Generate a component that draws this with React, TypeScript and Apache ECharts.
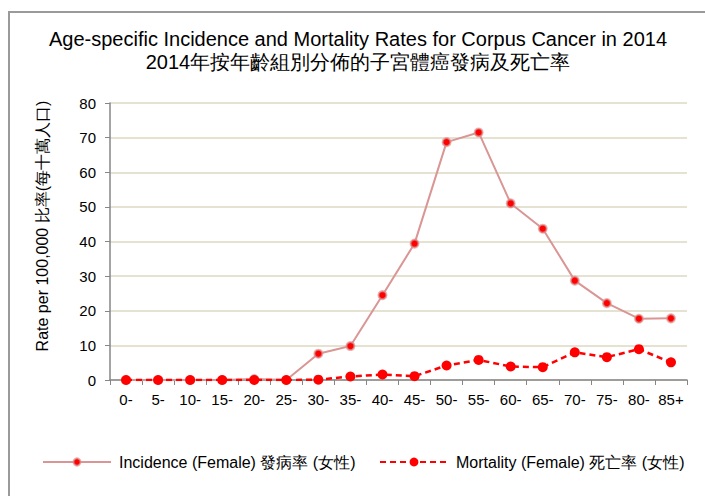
import React, { useEffect, useRef } from "react";
import * as echarts from "echarts";

const categories = ["0-", "5-", "10-", "15-", "20-", "25-", "30-", "35-", "40-", "45-", "50-", "55-", "60-", "65-", "70-", "75-", "80-", "85+"];
const incidence = [0, 0, 0, 0, 0.3, 0, 7.6, 9.8, 24.5, 39.4, 68.7, 71.5, 51.0, 43.7, 28.7, 22.2, 17.7, 17.8];
const mortality = [0, 0, 0, 0, 0, 0, 0.1, 1.0, 1.6, 1.1, 4.2, 5.8, 3.9, 3.7, 8.0, 6.6, 8.9, 5.1];
const yTicks = { min: 0, max: 80, interval: 10 };
const seriesNames = ["Incidence (Female) 發病率 (女性)", "Mortality (Female) 死亡率 (女性)"];

const FONT = "'Liberation Sans', Arial, sans-serif";

export default function App() {
  const ref = useRef<HTMLDivElement>(null);
  useEffect(() => {
    document.body.style.margin = "0";
    const chart = echarts.init(ref.current!, undefined, { renderer: "svg" });
    const legendBase = {
      top: 454,
      padding: 0,
      itemWidth: 68,
      textStyle: { fontSize: 16, color: "#000", fontFamily: FONT, padding: [0, 0, 0, 3] },
    };
    chart.setOption({
      animation: false,
      backgroundColor: "#fff",
      textStyle: { fontFamily: FONT },
      graphic: [
        {
          type: "rect",
          shape: { x: 9, y: 12, width: 720, height: 520 },
          style: { fill: "none", stroke: "#9a9a9a", lineWidth: 2 },
          silent: true,
          z: -10,
        },
      ],
      title: {
        text: "Age-specific Incidence and Mortality Rates for Corpus Cancer in 2014\n2014年按年齡組別分佈的子宮體癌發病及死亡率",
        left: 353,
        textAlign: "center",
        top: 22,
        textStyle: { fontFamily: FONT, fontSize: 20, fontWeight: "normal", color: "#000", lineHeight: 23 },
      },
      grid: { left: 110, right: 18, top: 103, bottom: 116, containLabel: false },
      xAxis: {
        type: "category",
        data: categories,
        boundaryGap: true,
        axisLine: { lineStyle: { color: "#868686", width: 1.5 } },
        axisTick: { show: true, alignWithLabel: false, length: 5, lineStyle: { color: "#868686" } },
        axisLabel: { color: "#000", fontSize: 15, fontFamily: FONT, margin: 12, interval: 0 },
      },
      yAxis: {
        type: "value",
        min: yTicks.min,
        max: yTicks.max,
        interval: yTicks.interval,
        name: "Rate per 100,000 比率(每十萬人口)",
        nameLocation: "middle",
        nameGap: 60,
        nameTextStyle: { fontSize: 16, color: "#000", fontFamily: FONT, padding: [0, 0, 0, 31] },
        axisLine: { show: true, lineStyle: { color: "#868686", width: 1.5 } },
        axisTick: { show: true, length: 5, lineStyle: { color: "#868686" } },
        axisLabel: { color: "#000", fontSize: 15, fontFamily: FONT, margin: 14 },
        splitLine: { show: true, lineStyle: { color: "#DDD9C3", width: 1.5 } },
      },
      legend: [
        { ...legendBase, left: 42, itemHeight: 9, data: [{ name: seriesNames[0] }] },
        { ...legendBase, left: 379, itemHeight: 11, data: [{ name: seriesNames[1] }] },
      ],
      series: [
        {
          name: seriesNames[0],
          type: "line",
          data: incidence,
          symbol: "circle",
          symbolSize: 8,
          lineStyle: { color: "#D99694", width: 2 },
          itemStyle: { color: "#FF0000", borderColor: "rgba(217,150,148,0.7)", borderWidth: 2 },
          z: 2,
        },
        {
          name: seriesNames[1],
          type: "line",
          data: mortality,
          symbol: "circle",
          symbolSize: 10,
          lineStyle: { color: "#FF0000", width: 2.5, type: [6, 4] },
          itemStyle: { color: "#FF0000", borderWidth: 0 },
          z: 3,
        },
      ],
    });
    return () => chart.dispose();
  }, []);
  return <div ref={ref} style={{ width: 705, height: 496, position: "absolute", left: 0, top: 0 }} />;
}
